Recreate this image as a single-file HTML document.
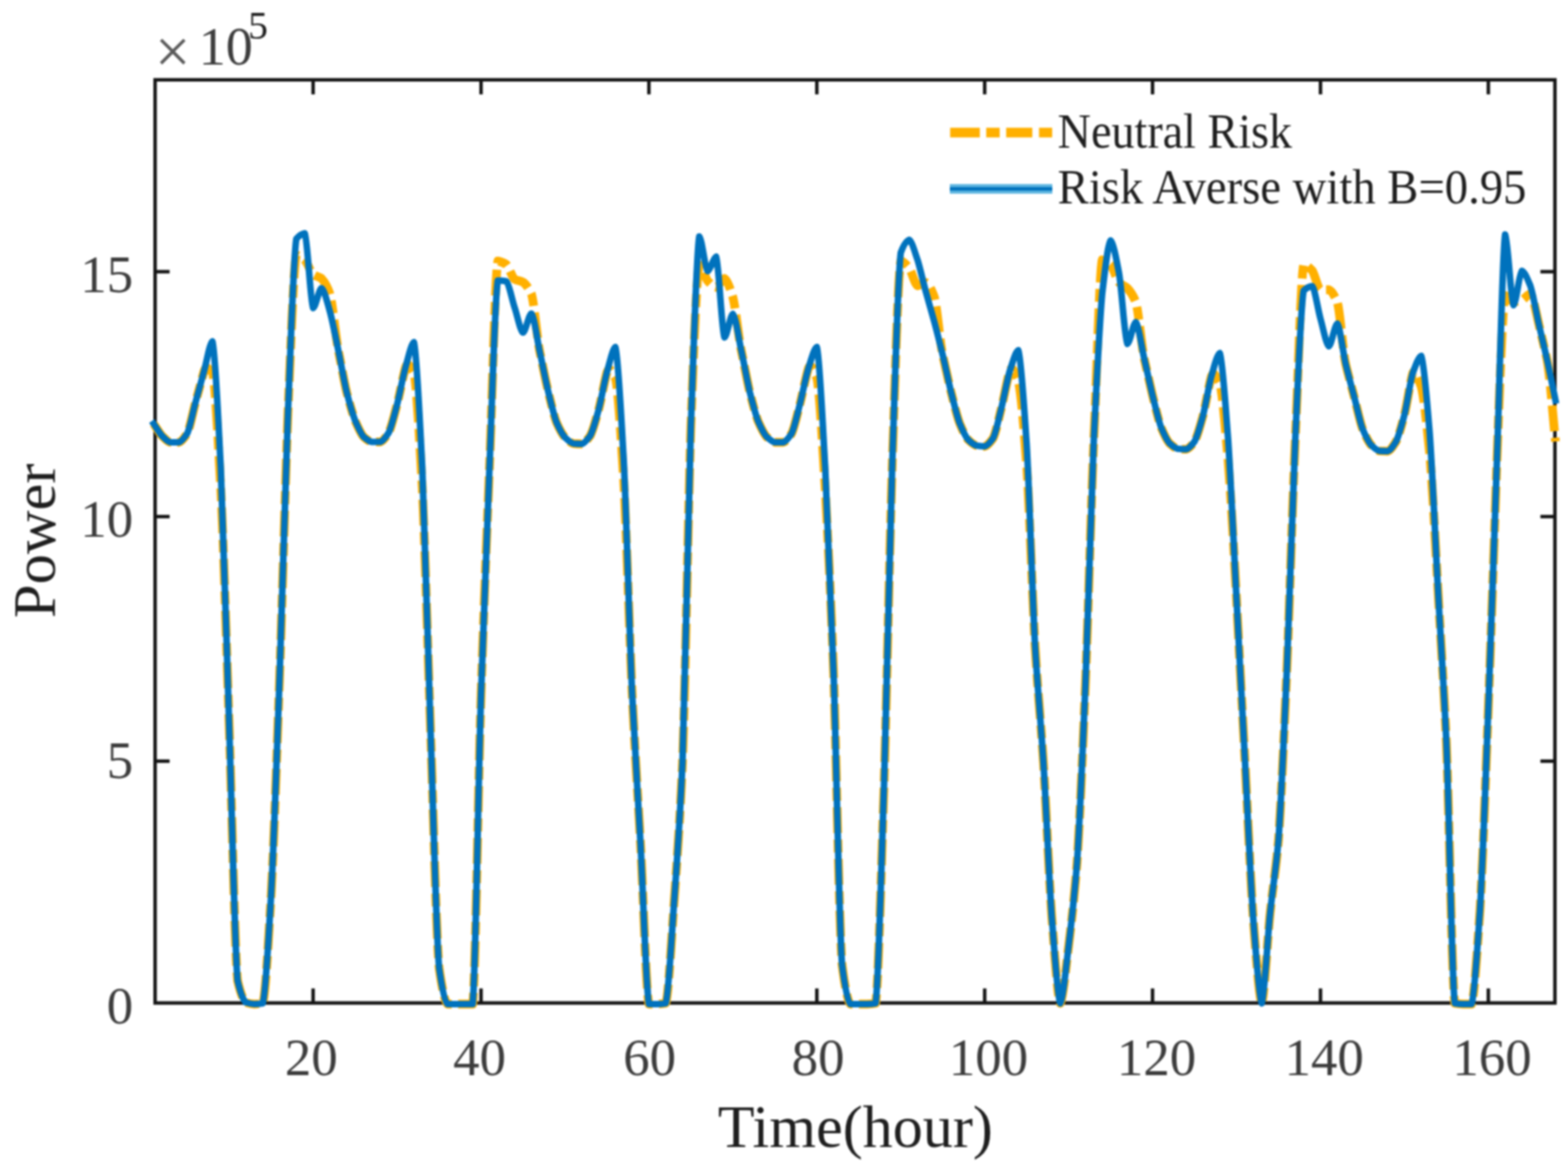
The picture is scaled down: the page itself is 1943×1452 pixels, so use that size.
<!DOCTYPE html>
<html><head><meta charset="utf-8"><title>Power</title>
<style>
html,body{margin:0;padding:0;background:#fff;}
body{width:1943px;height:1452px;position:relative;overflow:hidden;font-family:"Liberation Serif",serif;}
</style></head><body>
<svg width="1943" height="1452" viewBox="0 0 1943 1452" style="position:absolute;left:0;top:0">
<rect x="0" y="0" width="1943" height="1452" fill="#fff"/>
<defs><filter id="soft" filterUnits="userSpaceOnUse" x="0" y="0" width="1943" height="1452" color-interpolation-filters="sRGB"><feGaussianBlur stdDeviation="0.8"/></filter></defs>
<g filter="url(#soft)">
<g stroke="#141414" stroke-width="4.3" fill="none" stroke-linecap="butt">
<rect x="192.2" y="98.9" width="1734.6" height="1143.7"/>
<line x1="388.0" y1="1242.6" x2="388.0" y2="1224.6"/>
<line x1="388.0" y1="98.9" x2="388.0" y2="116.9"/>
<line x1="596.1" y1="1242.6" x2="596.1" y2="1224.6"/>
<line x1="596.1" y1="98.9" x2="596.1" y2="116.9"/>
<line x1="804.1" y1="1242.6" x2="804.1" y2="1224.6"/>
<line x1="804.1" y1="98.9" x2="804.1" y2="116.9"/>
<line x1="1012.2" y1="1242.6" x2="1012.2" y2="1224.6"/>
<line x1="1012.2" y1="98.9" x2="1012.2" y2="116.9"/>
<line x1="1220.2" y1="1242.6" x2="1220.2" y2="1224.6"/>
<line x1="1220.2" y1="98.9" x2="1220.2" y2="116.9"/>
<line x1="1428.2" y1="1242.6" x2="1428.2" y2="1224.6"/>
<line x1="1428.2" y1="98.9" x2="1428.2" y2="116.9"/>
<line x1="1636.3" y1="1242.6" x2="1636.3" y2="1224.6"/>
<line x1="1636.3" y1="98.9" x2="1636.3" y2="116.9"/>
<line x1="1844.3" y1="1242.6" x2="1844.3" y2="1224.6"/>
<line x1="1844.3" y1="98.9" x2="1844.3" y2="116.9"/>
<line x1="192.2" y1="943.0" x2="210.2" y2="943.0"/>
<line x1="1926.8" y1="943.0" x2="1908.8" y2="943.0"/>
<line x1="192.2" y1="640.0" x2="210.2" y2="640.0"/>
<line x1="1926.8" y1="640.0" x2="1908.8" y2="640.0"/>
<line x1="192.2" y1="336.6" x2="210.2" y2="336.6"/>
<line x1="1926.8" y1="336.6" x2="1908.8" y2="336.6"/>
</g>
<path d="M190.4 525.0C193.9 530.0 197.3 536.2 200.8 540.0C204.3 543.3 207.7 547.5 211.2 548.0C214.7 548.0 218.1 548.0 221.6 548.0C225.1 547.3 228.5 542.3 232.0 537.0C235.5 529.8 238.9 510.9 242.4 498.0C245.9 485.2 249.3 472.5 252.8 460.0C256.3 450.1 259.7 460.4 263.2 461.0C266.7 471.2 270.1 544.5 273.6 606.0C277.1 677.4 280.6 795.7 284.0 900.0C287.5 1005.7 291.0 1180.7 294.4 1215.0C297.9 1230.1 301.4 1239.2 304.8 1242.0C308.3 1243.1 311.8 1243.9 315.2 1244.0C318.7 1243.9 322.2 1243.6 325.6 1243.0C329.1 1233.5 332.6 1164.9 336.0 1108.0C339.5 1042.3 343.0 936.5 346.4 840.0C349.9 739.5 353.4 603.3 356.8 512.0C360.3 429.5 363.8 329.1 367.2 316.0C370.7 316.4 374.2 319.2 377.6 322.0C381.1 325.6 384.6 336.7 388.0 340.0C391.5 342.4 395.0 342.6 398.4 345.0C401.9 348.4 405.4 354.8 408.8 364.0C412.3 376.6 415.8 416.0 419.2 434.0C422.7 450.8 426.2 471.4 429.6 486.0C433.1 499.5 436.6 511.9 440.0 521.0C443.5 529.1 447.0 537.1 450.4 541.0C453.9 544.0 457.4 547.1 460.9 547.5C464.3 547.5 467.8 547.5 471.3 547.5C474.7 546.7 478.2 541.4 481.7 536.0C485.1 529.1 488.6 513.9 492.1 501.0C495.5 487.3 499.0 467.9 502.5 455.0C505.9 445.6 509.4 458.0 512.9 462.0C516.3 475.2 519.8 544.3 523.3 606.0C526.7 678.4 530.2 807.6 533.7 910.0C537.1 1011.4 540.6 1159.0 544.1 1199.0C547.5 1222.8 551.0 1241.0 554.5 1244.0C557.9 1244.0 561.4 1244.0 564.9 1244.0C568.3 1244.0 571.8 1244.0 575.3 1244.0C578.7 1244.0 582.2 1244.0 585.7 1244.0C589.1 1218.4 592.6 972.0 596.1 860.0C599.5 755.0 603.0 666.4 606.5 580.0C609.9 495.2 613.4 340.6 616.9 323.5C620.3 323.8 623.8 325.5 627.3 327.5C630.8 330.5 634.2 343.2 637.7 346.0C641.2 347.8 644.6 347.8 648.1 349.5C651.6 352.0 655.0 356.6 658.5 364.0C662.0 375.2 665.4 418.3 668.9 436.0C672.4 452.1 675.8 470.2 679.3 485.0C682.8 499.1 686.2 514.4 689.7 523.6C693.2 531.5 696.6 537.9 700.1 542.0C703.6 545.3 707.0 548.8 710.5 549.5C714.0 549.8 717.4 550.0 720.9 550.0C724.4 549.3 727.8 544.7 731.3 540.0C734.8 533.8 738.2 520.3 741.7 508.0C745.2 494.7 748.6 474.1 752.1 461.0C755.6 451.5 759.0 464.0 762.5 468.0C766.0 480.1 769.4 541.5 772.9 596.0C776.4 659.5 779.8 781.1 783.3 859.0C786.8 931.8 790.2 981.3 793.7 1045.0C797.2 1109.5 800.7 1230.7 804.1 1244.0C807.6 1244.0 811.1 1244.0 814.5 1244.0C818.0 1243.9 821.5 1243.6 824.9 1243.0C828.4 1234.1 831.9 1165.0 835.3 1118.0C838.8 1067.8 842.3 1021.7 845.7 945.0C849.2 852.0 852.7 636.0 856.1 528.0C859.6 434.5 863.1 341.3 866.5 328.0C870.0 329.3 873.5 343.6 876.9 348.0C880.4 351.6 883.9 355.5 887.3 356.0C890.8 355.3 894.3 345.7 897.7 345.0C901.2 346.5 904.7 357.4 908.1 368.0C911.6 381.5 915.1 416.8 918.5 434.0C922.0 450.1 925.5 470.2 928.9 485.0C932.4 498.8 935.9 512.5 939.3 521.7C942.8 529.7 946.3 537.0 949.7 541.0C953.2 544.2 956.7 547.5 960.1 548.0C963.6 548.0 967.1 548.0 970.5 548.0C974.0 547.3 977.5 542.3 981.0 537.0C984.4 530.0 987.9 513.2 991.4 500.0C994.8 486.3 998.3 467.6 1001.8 456.0C1005.2 448.1 1008.7 461.3 1012.2 468.0C1015.6 483.1 1019.1 550.9 1022.6 606.0C1026.0 667.2 1029.5 740.1 1033.0 835.0C1036.4 938.6 1039.9 1148.0 1043.4 1195.0C1046.8 1221.3 1050.3 1240.7 1053.8 1244.0C1057.2 1244.0 1060.7 1244.0 1064.2 1244.0C1067.6 1244.0 1071.1 1244.0 1074.6 1244.0C1078.0 1243.9 1081.5 1243.6 1085.0 1243.0C1088.4 1224.6 1091.9 1078.9 1095.4 975.0C1098.8 862.0 1102.3 680.9 1105.8 570.0C1109.2 469.7 1112.7 339.5 1116.2 323.0C1119.6 323.6 1123.1 328.0 1126.6 332.0C1130.0 336.9 1133.5 352.5 1137.0 354.0C1140.4 353.7 1143.9 350.3 1147.4 350.0C1150.9 351.2 1154.3 359.1 1157.8 368.0C1161.3 380.5 1164.7 423.6 1168.2 440.0C1171.7 454.6 1175.1 471.8 1178.6 486.0C1182.1 499.6 1185.5 514.4 1189.0 524.0C1192.5 532.5 1195.9 540.2 1199.4 544.5C1202.9 547.9 1206.3 551.0 1209.8 552.0C1213.3 552.5 1216.7 552.9 1220.2 553.0C1223.7 552.3 1227.1 547.9 1230.6 543.0C1234.1 536.2 1237.5 518.6 1241.0 505.0C1244.5 490.8 1247.9 470.7 1251.4 459.0C1254.9 451.2 1258.3 465.0 1261.8 472.0C1265.3 485.1 1268.7 531.2 1272.2 576.0C1275.7 628.8 1279.1 736.1 1282.6 800.0C1286.1 858.6 1289.5 891.3 1293.0 945.0C1296.5 1001.9 1299.9 1087.8 1303.4 1137.0C1306.9 1180.5 1310.3 1235.9 1313.8 1243.0C1317.3 1238.3 1320.8 1199.1 1324.2 1172.0C1327.7 1142.7 1331.2 1113.3 1334.6 1069.0C1338.1 1016.8 1341.6 930.9 1345.0 848.0C1348.5 759.6 1352.0 625.6 1355.4 545.0C1358.9 469.7 1362.4 336.9 1365.8 322.0C1369.3 322.4 1372.8 325.1 1376.2 328.0C1379.7 332.0 1383.2 345.7 1386.6 350.0C1390.1 353.3 1393.6 353.9 1397.0 357.0C1400.5 360.8 1404.0 365.6 1407.4 374.0C1410.9 386.0 1414.4 427.2 1417.8 444.0C1421.3 459.2 1424.8 475.7 1428.2 490.0C1431.7 503.9 1435.2 519.3 1438.6 529.0C1442.1 537.4 1445.6 544.9 1449.0 549.0C1452.5 552.2 1456.0 555.2 1459.4 556.0C1462.9 556.3 1466.4 556.6 1469.8 556.6C1473.3 556.0 1476.8 551.6 1480.2 547.0C1483.7 540.9 1487.2 527.5 1490.7 515.0C1494.1 501.4 1497.6 478.9 1501.1 466.0C1504.5 457.1 1508.0 470.3 1511.5 475.6C1514.9 486.6 1518.4 531.9 1521.9 571.0C1525.3 615.2 1528.8 678.6 1532.3 743.0C1535.7 809.2 1539.2 875.8 1542.7 942.0C1546.1 1008.1 1549.6 1090.7 1553.1 1140.0C1556.5 1183.0 1560.0 1236.1 1563.5 1243.0C1566.9 1235.5 1570.4 1165.2 1573.9 1131.0C1577.3 1098.2 1580.8 1080.0 1584.3 1040.0C1587.7 991.9 1591.2 907.0 1594.7 828.0C1598.1 744.2 1601.6 621.4 1605.1 543.0C1608.5 469.2 1612.0 341.9 1615.5 327.5C1618.9 328.0 1622.4 331.5 1625.9 335.0C1629.3 339.6 1632.8 357.4 1636.3 359.0C1639.7 359.0 1643.2 359.0 1646.7 359.0C1650.1 360.0 1653.6 366.3 1657.1 374.0C1660.5 385.8 1664.0 434.0 1667.5 451.0C1671.0 465.5 1674.4 477.7 1677.9 491.0C1681.4 504.3 1684.8 521.2 1688.3 531.0C1691.8 539.4 1695.2 546.7 1698.7 551.0C1702.2 554.4 1705.6 557.9 1709.1 558.6C1712.6 558.8 1716.0 559.0 1719.5 559.0C1723.0 558.2 1726.4 552.5 1729.9 547.0C1733.4 540.1 1736.8 527.0 1740.3 514.0C1743.8 499.8 1747.2 473.4 1750.7 462.0C1754.2 455.2 1757.6 470.4 1761.1 479.0C1764.6 492.0 1768.0 526.0 1771.5 561.0C1775.0 601.8 1778.4 668.4 1781.9 731.0C1785.4 794.9 1788.8 843.8 1792.3 920.0C1795.8 1005.1 1799.2 1220.9 1802.7 1243.0C1806.2 1243.6 1809.6 1243.9 1813.1 1244.0C1816.6 1244.0 1820.0 1244.0 1823.5 1244.0C1827.0 1236.3 1830.4 1178.1 1833.9 1128.0C1837.4 1068.8 1840.9 965.7 1844.3 876.0C1847.8 783.1 1851.3 675.0 1854.7 577.0C1858.2 484.9 1861.7 380.1 1865.1 366.0C1868.6 366.5 1872.1 373.5 1875.5 374.0C1879.0 373.9 1882.5 373.0 1885.9 372.0C1889.4 370.6 1892.9 364.5 1896.3 364.0C1899.8 366.5 1903.3 386.3 1906.7 401.0C1910.2 416.3 1913.7 430.4 1917.1 446.0C1920.6 465.4 1924.1 513.3 1927.5 547.0" fill="none" stroke="#FFB000" stroke-width="10.8" stroke-dasharray="32 8 16 8" stroke-linejoin="round"/>
<path d="M190.4 525.0C193.9 530.0 197.3 536.2 200.8 540.0C204.3 543.3 207.7 547.5 211.2 548.0C214.7 548.0 218.1 548.0 221.6 548.0C225.1 547.3 228.5 542.3 232.0 537.0C235.5 529.8 238.9 510.9 242.4 498.0C245.9 485.2 249.3 472.5 252.8 460.0C256.3 447.5 259.7 425.5 263.2 423.0C266.7 433.5 270.1 513.4 273.6 580.0C277.1 657.5 280.6 794.0 284.0 900.0C287.5 1005.7 291.0 1180.7 294.4 1215.0C297.9 1230.1 301.4 1239.2 304.8 1242.0C308.3 1243.1 311.8 1243.9 315.2 1244.0C318.7 1243.9 322.2 1243.6 325.6 1243.0C329.1 1233.5 332.6 1164.9 336.0 1108.0C339.5 1042.3 343.0 936.5 346.4 840.0C349.9 739.5 353.4 603.3 356.8 512.0C360.3 428.1 363.8 314.0 367.2 296.0C370.7 291.9 374.2 289.5 377.6 289.0C381.1 295.2 384.6 375.3 388.0 381.5C391.5 379.9 395.0 358.6 398.4 357.0C401.9 358.9 405.4 374.4 408.8 386.0C412.3 398.8 415.8 417.5 419.2 434.0C422.7 450.8 426.2 471.4 429.6 486.0C433.1 499.5 436.6 511.9 440.0 521.0C443.5 529.1 447.0 537.1 450.4 541.0C453.9 544.0 457.4 547.1 460.9 547.5C464.3 547.5 467.8 547.5 471.3 547.5C474.7 546.7 478.2 541.4 481.7 536.0C485.1 529.1 488.6 513.9 492.1 501.0C495.5 487.3 499.0 467.9 502.5 455.0C505.9 443.1 509.4 426.1 512.9 424.0C516.3 434.4 519.8 513.1 523.3 580.0C526.7 658.5 530.2 805.8 533.7 910.0C537.1 1011.4 540.6 1159.0 544.1 1199.0C547.5 1222.8 551.0 1241.0 554.5 1244.0C557.9 1244.0 561.4 1244.0 564.9 1244.0C568.3 1244.0 571.8 1244.0 575.3 1244.0C578.7 1244.0 582.2 1244.0 585.7 1244.0C589.1 1218.4 592.6 972.0 596.1 860.0C599.5 755.0 603.0 666.4 606.5 580.0C609.9 496.8 613.4 363.0 616.9 347.5C620.3 347.6 623.8 347.9 627.3 348.5C630.8 351.2 634.2 370.4 637.7 381.0C641.2 391.5 644.6 409.9 648.1 412.0C651.6 410.4 655.0 390.1 658.5 388.5C662.0 391.7 665.4 420.0 668.9 436.0C672.4 452.1 675.8 470.2 679.3 485.0C682.8 499.1 686.2 514.4 689.7 523.6C693.2 531.5 696.6 537.9 700.1 542.0C703.6 545.3 707.0 548.8 710.5 549.5C714.0 549.8 717.4 550.0 720.9 550.0C724.4 549.3 727.8 544.7 731.3 540.0C734.8 533.8 738.2 520.3 741.7 508.0C745.2 494.7 748.6 474.1 752.1 461.0C755.6 449.0 759.0 432.1 762.5 430.0C766.0 439.3 769.4 510.4 772.9 570.0C776.4 639.6 779.8 779.4 783.3 859.0C786.8 931.8 790.2 981.3 793.7 1045.0C797.2 1109.5 800.7 1230.7 804.1 1244.0C807.6 1244.0 811.1 1244.0 814.5 1244.0C818.0 1243.9 821.5 1243.6 824.9 1243.0C828.4 1234.1 831.9 1165.0 835.3 1118.0C838.8 1067.8 842.3 1021.7 845.7 945.0C849.2 852.0 852.7 636.0 856.1 528.0C859.6 432.2 863.1 308.7 866.5 293.0C870.0 295.9 873.5 333.1 876.9 336.0C880.4 334.8 883.9 319.2 887.3 318.0C890.8 324.7 894.3 411.3 897.7 418.0C901.2 416.1 904.7 390.9 908.1 389.0C911.6 392.0 915.1 418.2 918.5 434.0C922.0 450.1 925.5 470.2 928.9 485.0C932.4 498.8 935.9 512.5 939.3 521.7C942.8 529.7 946.3 537.0 949.7 541.0C953.2 544.2 956.7 547.5 960.1 548.0C963.6 548.0 967.1 548.0 970.5 548.0C974.0 547.3 977.5 542.3 981.0 537.0C984.4 530.0 987.9 513.2 991.4 500.0C994.8 486.3 998.3 467.6 1001.8 456.0C1005.2 445.6 1008.7 431.7 1012.2 430.0C1015.6 440.0 1019.1 519.6 1022.6 580.0C1026.0 647.4 1029.5 738.4 1033.0 835.0C1036.4 938.6 1039.9 1148.0 1043.4 1195.0C1046.8 1221.3 1050.3 1240.7 1053.8 1244.0C1057.2 1244.0 1060.7 1244.0 1064.2 1244.0C1067.6 1244.0 1071.1 1244.0 1074.6 1244.0C1078.0 1243.9 1081.5 1243.6 1085.0 1243.0C1088.4 1224.6 1091.9 1078.9 1095.4 975.0C1098.8 862.0 1102.3 680.9 1105.8 570.0C1109.2 469.0 1112.7 338.2 1116.2 313.0C1119.6 303.9 1123.1 298.1 1126.6 297.0C1130.0 298.7 1133.5 312.1 1137.0 322.0C1140.4 332.9 1143.9 349.1 1147.4 362.0C1150.9 374.7 1154.3 386.2 1157.8 399.0C1161.3 412.1 1164.7 425.7 1168.2 440.0C1171.7 454.6 1175.1 471.8 1178.6 486.0C1182.1 499.6 1185.5 514.4 1189.0 524.0C1192.5 532.5 1195.9 540.2 1199.4 544.5C1202.9 547.9 1206.3 551.0 1209.8 552.0C1213.3 552.5 1216.7 552.9 1220.2 553.0C1223.7 552.3 1227.1 547.9 1230.6 543.0C1234.1 536.2 1237.5 518.6 1241.0 505.0C1244.5 490.8 1247.9 470.7 1251.4 459.0C1254.9 448.7 1258.3 435.7 1261.8 434.0C1265.3 441.7 1268.7 500.0 1272.2 550.0C1275.7 608.9 1279.1 734.4 1282.6 800.0C1286.1 858.6 1289.5 891.3 1293.0 945.0C1296.5 1001.9 1299.9 1087.8 1303.4 1137.0C1306.9 1180.5 1310.3 1235.9 1313.8 1243.0C1317.3 1238.3 1320.8 1199.1 1324.2 1172.0C1327.7 1142.7 1331.2 1113.3 1334.6 1069.0C1338.1 1016.8 1341.6 930.9 1345.0 848.0C1348.5 759.6 1352.0 625.6 1355.4 545.0C1358.9 472.5 1362.4 401.9 1365.8 364.0C1369.3 333.8 1372.8 302.4 1376.2 298.0C1379.7 300.7 1383.2 320.7 1386.6 338.0C1390.1 358.5 1393.6 420.1 1397.0 426.0C1400.5 424.2 1404.0 400.8 1407.4 399.0C1410.9 402.0 1414.4 428.9 1417.8 444.0C1421.3 459.2 1424.8 475.7 1428.2 490.0C1431.7 503.9 1435.2 519.3 1438.6 529.0C1442.1 537.4 1445.6 544.9 1449.0 549.0C1452.5 552.2 1456.0 555.2 1459.4 556.0C1462.9 556.3 1466.4 556.6 1469.8 556.6C1473.3 556.0 1476.8 551.6 1480.2 547.0C1483.7 540.9 1487.2 527.5 1490.7 515.0C1494.1 501.4 1497.6 478.9 1501.1 466.0C1504.5 454.5 1508.0 439.5 1511.5 437.6C1514.9 444.8 1518.4 500.7 1521.9 545.0C1525.3 595.3 1528.8 676.9 1532.3 743.0C1535.7 809.2 1539.2 875.8 1542.7 942.0C1546.1 1008.1 1549.6 1090.7 1553.1 1140.0C1556.5 1183.0 1560.0 1236.1 1563.5 1243.0C1566.9 1235.5 1570.4 1165.2 1573.9 1131.0C1577.3 1098.2 1580.8 1080.0 1584.3 1040.0C1587.7 991.9 1591.2 907.0 1594.7 828.0C1598.1 744.2 1601.6 621.4 1605.1 543.0C1608.5 471.4 1612.0 375.0 1615.5 360.0C1618.9 356.8 1622.4 354.9 1625.9 354.5C1629.3 357.2 1632.8 382.4 1636.3 395.0C1639.7 407.1 1643.2 426.7 1646.7 429.0C1650.1 427.1 1653.6 402.9 1657.1 401.0C1660.5 404.3 1664.0 435.8 1667.5 451.0C1671.0 465.5 1674.4 477.7 1677.9 491.0C1681.4 504.3 1684.8 521.2 1688.3 531.0C1691.8 539.4 1695.2 546.7 1698.7 551.0C1702.2 554.4 1705.6 557.9 1709.1 558.6C1712.6 558.8 1716.0 559.0 1719.5 559.0C1723.0 558.2 1726.4 552.5 1729.9 547.0C1733.4 540.1 1736.8 527.0 1740.3 514.0C1743.8 499.8 1747.2 473.4 1750.7 462.0C1754.2 452.6 1757.6 442.4 1761.1 441.0C1764.6 447.3 1768.0 494.9 1771.5 535.0C1775.0 581.9 1778.4 666.6 1781.9 731.0C1785.4 794.9 1788.8 843.8 1792.3 920.0C1795.8 1005.1 1799.2 1220.9 1802.7 1243.0C1806.2 1243.6 1809.6 1243.9 1813.1 1244.0C1816.6 1244.0 1820.0 1244.0 1823.5 1244.0C1827.0 1236.3 1830.4 1178.1 1833.9 1128.0C1837.4 1068.8 1840.9 965.7 1844.3 876.0C1847.8 783.1 1851.3 675.0 1854.7 577.0C1858.2 479.9 1861.7 309.6 1865.1 290.5C1868.6 296.3 1872.1 372.2 1875.5 378.0C1879.0 375.2 1882.5 338.3 1885.9 335.5C1889.4 336.7 1892.9 345.7 1896.3 354.0C1899.8 364.2 1903.3 385.6 1906.7 401.0C1910.2 416.3 1913.7 430.4 1917.1 446.0C1920.6 462.0 1924.1 479.3 1927.5 496.0" fill="none" stroke="#0072BD" stroke-width="8.1" stroke-linejoin="round" stroke-linecap="square"/>
<path d="M1177.4 164.3H1214.2M1222.1 164.3H1238.8M1246.8 164.3H1279.2M1287.5 164.3H1303.8" fill="none" stroke="#FFB000" stroke-width="12"/>
<line x1="1177" y1="234" x2="1304" y2="234" stroke="#62B8E2" stroke-width="12"/>
<line x1="1177" y1="234" x2="1304" y2="234" stroke="#0072BD" stroke-width="4.4"/>
<g font-family="'Liberation Serif', serif" fill="#1e1e1e">
<text x="385.8" y="1331.5" font-size="65.5" text-anchor="middle" fill="#3c3c3c">20</text>
<text x="594.2" y="1331.5" font-size="65.5" text-anchor="middle" fill="#3c3c3c">40</text>
<text x="804.9" y="1331.5" font-size="65.5" text-anchor="middle" fill="#3c3c3c">60</text>
<text x="1013.8" y="1331.5" font-size="65.5" text-anchor="middle" fill="#3c3c3c">80</text>
<text x="1224.9" y="1331.5" font-size="65.5" text-anchor="middle" fill="#3c3c3c">100</text>
<text x="1433.0" y="1331.5" font-size="65.5" text-anchor="middle" fill="#3c3c3c">120</text>
<text x="1640.9" y="1331.5" font-size="65.5" text-anchor="middle" fill="#3c3c3c">140</text>
<text x="1848.9" y="1331.5" font-size="65.5" text-anchor="middle" fill="#3c3c3c">160</text>
<text x="165" y="1268.2" font-size="65.5" text-anchor="end" fill="#3c3c3c">0</text>
<text x="165" y="964.4" font-size="65.5" text-anchor="end" fill="#3c3c3c">5</text>
<text x="165" y="665.2" font-size="65.5" text-anchor="end" fill="#3c3c3c">10</text>
<text x="165" y="361.8" font-size="65.5" text-anchor="end" fill="#3c3c3c">15</text>
<text transform="translate(1310.6,182.7) scale(0.945,1)" font-size="60.5">Neutral Risk</text>
<text transform="translate(1310.6,252.2) scale(0.956,1)" font-size="60.5">Risk Averse with B=0.95</text>
<text x="1060" y="1421" font-size="74.5" text-anchor="middle">Time(hour)</text>
<text transform="translate(68,670) rotate(-90)" font-size="75" text-anchor="middle">Power</text>
<text x="192" y="90" font-size="78" fill="#5a5a5a">×</text>
<text x="246.3" y="80.4" font-size="67" fill="#3c3c3c">10</text>
<text x="307.5" y="47.8" font-size="49">5</text>
</g>
</g>
</svg>
</body></html>
